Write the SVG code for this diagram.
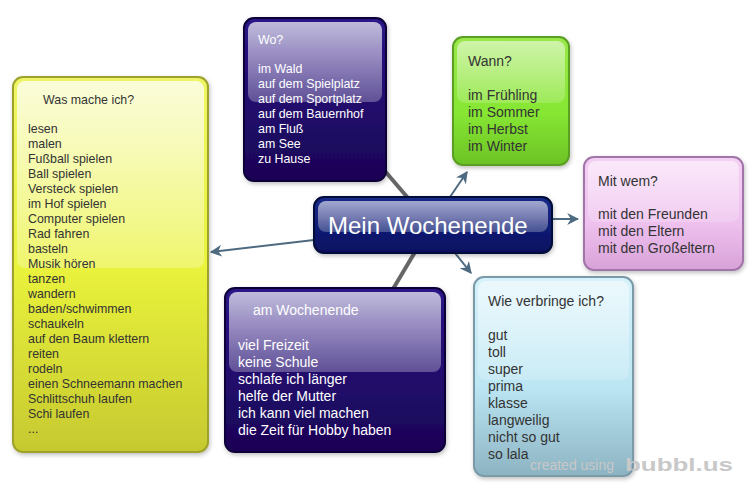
<svg xmlns="http://www.w3.org/2000/svg" width="753" height="487" viewBox="0 0 753 487">
<defs>
  <linearGradient id="gYellow" x1="0" y1="0" x2="0" y2="1">
    <stop offset="0" stop-color="#eef566"/>
    <stop offset="0.5" stop-color="#eaf33c"/>
    <stop offset="1" stop-color="#c6c92f"/>
  </linearGradient>
  <linearGradient id="gIndigo" x1="0" y1="0" x2="0" y2="1">
    <stop offset="0" stop-color="#2a1488"/>
    <stop offset="1" stop-color="#1a0455"/>
  </linearGradient>
  <linearGradient id="gNavy" x1="0" y1="0" x2="0" y2="1">
    <stop offset="0" stop-color="#1a2a8a"/>
    <stop offset="1" stop-color="#071060"/>
  </linearGradient>
  <linearGradient id="gGreen" x1="0" y1="0" x2="0" y2="1">
    <stop offset="0" stop-color="#9ae84a"/>
    <stop offset="0.6" stop-color="#86e632"/>
    <stop offset="1" stop-color="#6cc226"/>
  </linearGradient>
  <linearGradient id="gPink" x1="0" y1="0" x2="0" y2="1">
    <stop offset="0" stop-color="#f4d0f4"/>
    <stop offset="0.6" stop-color="#eec0ee"/>
    <stop offset="1" stop-color="#d8a2d8"/>
  </linearGradient>
  <linearGradient id="gBlue" x1="0" y1="0" x2="0" y2="1">
    <stop offset="0" stop-color="#d6f2fb"/>
    <stop offset="0.55" stop-color="#bce6f3"/>
    <stop offset="1" stop-color="#8cb3c2"/>
  </linearGradient>
  <linearGradient id="gGloss" x1="0" y1="0" x2="0" y2="1">
    <stop offset="0" stop-color="#ffffff" stop-opacity="0.75"/>
    <stop offset="1" stop-color="#ffffff" stop-opacity="0.25"/>
  </linearGradient>
  <linearGradient id="gGlossDark" x1="0" y1="0" x2="0" y2="1">
    <stop offset="0" stop-color="#ffffff" stop-opacity="0.7"/>
    <stop offset="1" stop-color="#ffffff" stop-opacity="0.28"/>
  </linearGradient>
  <filter id="shadow" x="-10%" y="-10%" width="130%" height="130%">
    <feDropShadow dx="1" dy="2" stdDeviation="2" flood-color="#000" flood-opacity="0.25"/>
  </filter>
  <marker id="arrow" viewBox="0 0 10 10" refX="9" refY="5" markerWidth="6" markerHeight="6" orient="auto" markerUnits="strokeWidth">
    <path d="M0,0 L10,5 L0,10 L3,5 Z" fill="#4d6a80"/>
  </marker>
</defs>
<style>
  .dark { font-family: "Liberation Sans", Arial, sans-serif; fill: #333333; }
  .light { font-family: "Liberation Sans", Arial, sans-serif; fill: #ffffff; }
  .s12 { font-size: 12.4px; }
  .s14 { font-size: 14px; }
  .arrowline { stroke: #4d6a80; stroke-width: 2; fill: none; }
  .pline { stroke: #666666; stroke-width: 4; fill: none; }
</style>

<g id="connectors">
  <line class="pline" x1="384" y1="170" x2="408" y2="198"/>
  <line class="pline" x1="415" y1="252" x2="393" y2="289"/>
  <line class="arrowline" x1="314" y1="240" x2="211" y2="252" marker-end="url(#arrow)"/>
  <line class="arrowline" x1="450" y1="197" x2="467" y2="172" marker-end="url(#arrow)"/>
  <line class="arrowline" x1="552" y1="219" x2="578" y2="219" marker-end="url(#arrow)"/>
  <line class="arrowline" x1="455" y1="253" x2="471" y2="273" marker-end="url(#arrow)"/>
</g>

<g id="node-was">
  <rect x="13" y="77" width="195" height="375" rx="10" fill="url(#gYellow)" stroke="#9fa22a" stroke-width="2" filter="url(#shadow)"/>
  <rect x="17" y="81" width="187" height="187" rx="8" fill="url(#gGloss)"/>
  <text class="dark s12" x="43" y="104">Was mache ich?</text>
  <text class="dark s12">
    <tspan x="28" y="133">lesen</tspan>
    <tspan x="28" y="148">malen</tspan>
    <tspan x="28" y="163">Fußball spielen</tspan>
    <tspan x="28" y="178">Ball spielen</tspan>
    <tspan x="28" y="193">Versteck spielen</tspan>
    <tspan x="28" y="208">im Hof spielen</tspan>
    <tspan x="28" y="223">Computer spielen</tspan>
    <tspan x="28" y="238">Rad fahren</tspan>
    <tspan x="28" y="253">basteln</tspan>
    <tspan x="28" y="268">Musik hören</tspan>
    <tspan x="28" y="283">tanzen</tspan>
    <tspan x="28" y="298">wandern</tspan>
    <tspan x="28" y="313">baden/schwimmen</tspan>
    <tspan x="28" y="328">schaukeln</tspan>
    <tspan x="28" y="343">auf den Baum klettern</tspan>
    <tspan x="28" y="358">reiten</tspan>
    <tspan x="28" y="373">rodeln</tspan>
    <tspan x="28" y="388">einen Schneemann machen</tspan>
    <tspan x="28" y="403">Schlittschuh laufen</tspan>
    <tspan x="28" y="418">Schi laufen</tspan>
    <tspan x="28" y="433">...</tspan>
  </text>
</g>

<g id="node-wo">
  <rect x="244" y="18" width="142" height="163" rx="10" fill="url(#gIndigo)" stroke="#0e0438" stroke-width="2" filter="url(#shadow)"/>
  <rect x="248" y="22" width="134" height="80" rx="8" fill="url(#gGlossDark)"/>
  <text class="light s12" x="258" y="44">Wo?</text>
  <text class="light s12">
    <tspan x="258" y="73">im Wald</tspan>
    <tspan x="258" y="88">auf dem Spielplatz</tspan>
    <tspan x="258" y="103">auf dem Sportplatz</tspan>
    <tspan x="258" y="118">auf dem Bauernhof</tspan>
    <tspan x="258" y="133">am Fluß</tspan>
    <tspan x="258" y="148">am See</tspan>
    <tspan x="258" y="163">zu Hause</tspan>
  </text>
</g>

<g id="node-wann">
  <rect x="453" y="37" width="116" height="128" rx="10" fill="url(#gGreen)" stroke="#5a9e22" stroke-width="2" filter="url(#shadow)"/>
  <rect x="457" y="41" width="108" height="62" rx="8" fill="url(#gGloss)" opacity="0.7"/>
  <text class="dark s14" x="468" y="66">Wann?</text>
  <text class="dark s14">
    <tspan x="468" y="100">im Frühling</tspan>
    <tspan x="468" y="117">im Sommer</tspan>
    <tspan x="468" y="134">im Herbst</tspan>
    <tspan x="468" y="151">im Winter</tspan>
  </text>
</g>

<g id="node-mitwem">
  <rect x="584" y="157" width="159" height="113" rx="10" fill="url(#gPink)" stroke="#a274aa" stroke-width="2" filter="url(#shadow)"/>
  <rect x="588" y="161" width="151" height="61" rx="8" fill="url(#gGloss)" opacity="0.7"/>
  <text class="dark s14" x="598" y="186">Mit wem?</text>
  <text class="dark s14">
    <tspan x="598" y="219">mit den Freunden</tspan>
    <tspan x="598" y="236">mit den Eltern</tspan>
    <tspan x="598" y="253">mit den Großeltern</tspan>
  </text>
</g>

<g id="node-center">
  <rect x="314" y="197" width="238" height="56" rx="10" fill="url(#gNavy)" stroke="#000838" stroke-width="2" filter="url(#shadow)"/>
  <rect x="318" y="201" width="230" height="31" rx="8" fill="url(#gGlossDark)" opacity="0.85"/>
  <text class="light" x="328" y="234" font-size="24">Mein Wochenende</text>
</g>

<g id="node-am">
  <rect x="225" y="288" width="220" height="164" rx="10" fill="url(#gIndigo)" stroke="#0e0438" stroke-width="2" filter="url(#shadow)"/>
  <rect x="229" y="292" width="212" height="80" rx="8" fill="url(#gGlossDark)"/>
  <text class="light s14" x="253" y="315">am Wochenende</text>
  <text class="light s14">
    <tspan x="238" y="350">viel Freizeit</tspan>
    <tspan x="238" y="367">keine Schule</tspan>
    <tspan x="238" y="384">schlafe ich länger</tspan>
    <tspan x="238" y="401">helfe der Mutter</tspan>
    <tspan x="238" y="418">ich kann viel machen</tspan>
    <tspan x="238" y="435">die Zeit für Hobby haben</tspan>
  </text>
</g>

<g id="node-wie">
  <rect x="474" y="277" width="159" height="199" rx="10" fill="url(#gBlue)" stroke="#7a9aa8" stroke-width="2" filter="url(#shadow)"/>
  <rect x="478" y="281" width="151" height="99" rx="8" fill="url(#gGloss)" opacity="0.7"/>
  <text class="dark s14" x="488" y="306">Wie verbringe ich?</text>
  <text class="dark s14">
    <tspan x="488" y="340">gut</tspan>
    <tspan x="488" y="357">toll</tspan>
    <tspan x="488" y="374">super</tspan>
    <tspan x="488" y="391">prima</tspan>
    <tspan x="488" y="408">klasse</tspan>
    <tspan x="488" y="425">langweilig</tspan>
    <tspan x="488" y="442">nicht so gut</tspan>
    <tspan x="488" y="459">so lala</tspan>
  </text>
</g>

<g id="watermark">
  <text x="530" y="470" font-family="Liberation Sans, Arial, sans-serif" font-size="14" fill="#c8c8c8">created using</text>
  <text x="625" y="471" font-family="Liberation Sans, Arial, sans-serif" font-size="19" font-weight="bold" fill="#c8c8c8" textLength="108" lengthAdjust="spacingAndGlyphs">bubbl.us</text>
</g>
</svg>
